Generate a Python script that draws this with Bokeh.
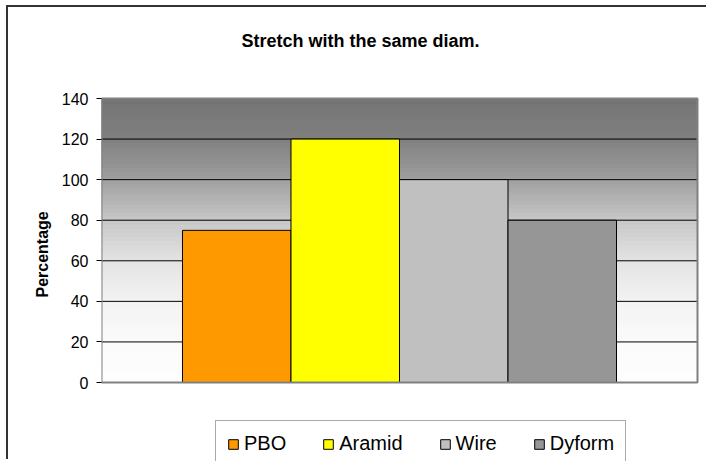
import numpy as np
from bokeh.plotting import figure
from bokeh.models import Range1d, FixedTicker, Legend, LegendItem, Title, Label
from bokeh.embed import file_html
from bokeh.resources import INLINE

# ---- data ----
series = ["PBO", "Aramid", "Wire", "Dyform"]
values = [75, 120, 100, 80]
colors = ["#FF9900", "#FFFF00", "#C0C0C0", "#969696"]
y_ticks = [0, 20, 40, 60, 80, 100, 120, 140]
title_text = "Stretch with the same diam."
y_label = "Percentage"

# ---- layout (pixels) ----
W, H = 700, 454             # canvas, drawn at page offset (8, 7)
left_px, plot_w_px, right_px = 93, 596, 11
top_px, plot_h_px, bottom_px = 91, 284, 79

n = len(series)
side_gap = 0.7465           # empty space either side of the bar group, in bar widths
x_start = -0.5 - side_gap
x_end = n - 0.5 + side_gap
y_min, y_max = y_ticks[0], y_ticks[-1]
x_unit = plot_w_px / (x_end - x_start)
y_unit = plot_h_px / (y_max - y_min)

p = figure(width=W, height=H, output_backend="svg", toolbar_location=None,
           x_range=Range1d(x_start, x_end + right_px / x_unit),
           y_range=Range1d(y_min - bottom_px / y_unit, y_max + top_px / y_unit),
           x_axis_location=None,
           min_border_left=left_px, min_border_right=0, min_border_top=0,
           min_border_bottom=0)
p.styles = {"margin-left": "6px", "margin-top": "5px",
            "border-left": "2px solid #333333", "border-top": "2px solid #333333"}
p.background_fill_color = "white"
p.border_fill_color = "white"
p.outline_line_color = None
p.grid.visible = False

# gradient background of the plot area
stops_y = [0, 20, 40, 60, 80, 100, 120, 140]
stops_v = [254, 251, 243, 228, 200, 160, 128, 117]
edges = np.linspace(y_min, y_max, 71)
mids = (edges[:-1] + edges[1:]) / 2
gv = np.interp(mids, stops_y, stops_v)
gcols = ["#%02x%02x%02x" % (int(v), int(v), int(v)) for v in gv]
p.quad(left=x_start, right=x_end, bottom=edges[:-1], top=edges[1:],
       fill_color=gcols, line_color=gcols, line_width=1)

# horizontal gridlines
p.segment(x0=x_start, x1=x_end, y0=y_ticks, y1=y_ticks,
          line_color="black", line_width=1)

# bars
renderers = []
for i in range(n):
    r = p.vbar(x=[i], top=[values[i]], width=1.0, fill_color=colors[i],
               line_color="black", line_width=1)
    renderers.append(r)

# plot-area border
p.quad(left=x_start, right=x_end, bottom=y_min, top=y_max,
       fill_color=None, line_color="#808080", line_width=2)

# y axis
ya = p.yaxis[0]
ya.ticker = FixedTicker(ticks=y_ticks)
ya.major_label_text_font = "Liberation Sans"
ya.major_label_text_font_size = "16px"
ya.major_label_text_color = "black"
ya.major_tick_out = 5
ya.major_tick_in = 0
ya.major_tick_line_color = "black"
ya.minor_tick_line_color = None
ya.axis_line_color = None
ya.major_label_standoff = 8

# y axis title
p.add_layout(Title(text=y_label, align="left", offset=164, standoff=16,
                   text_font="Liberation Sans", text_font_size="16px",
                   text_font_style="bold", text_color="black"), "left")

# chart title
p.add_layout(Label(x=140, y=421, x_units="screen", y_units="screen",
                   text=title_text, text_align="left", text_baseline="alphabetic",
                   text_font="Liberation Sans", text_font_size="18px",
                   text_font_style="bold", text_color="black"))

# legend
legend = Legend(items=[LegendItem(label=s, renderers=[r]) for s, r in zip(series, renderers)],
                orientation="horizontal", location=(114, -6), spacing=36,
                padding=11, margin=0, glyph_width=12, glyph_height=12,
                label_standoff=5, label_height=20,
                label_text_font="Liberation Sans", label_text_font_size="20px",
                label_text_color="black", border_line_color="#555555",
                border_line_width=1, background_fill_color="white",
                background_fill_alpha=1)
p.add_layout(legend, "center")

open("out.html", "w").write(file_html(p, INLINE))
